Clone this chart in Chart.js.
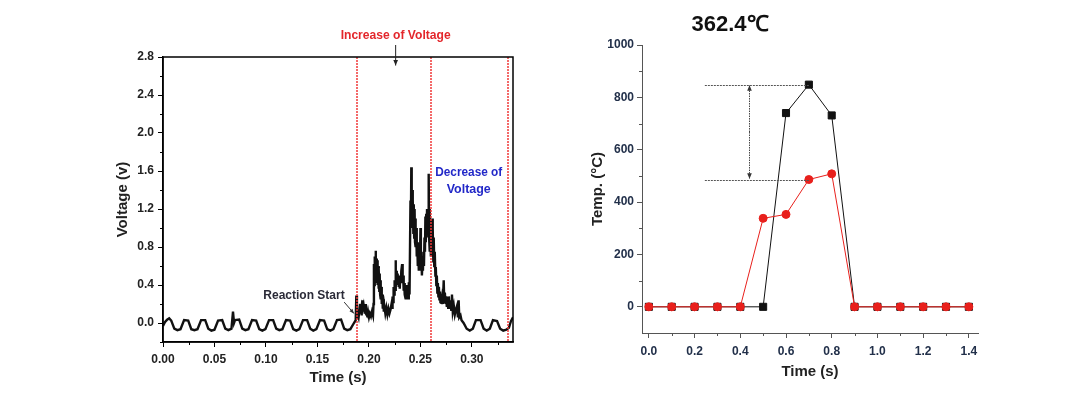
<!DOCTYPE html>
<html>
<head>
<meta charset="utf-8">
<script src="https://cdn.jsdelivr.net/npm/chart.js@4.4.1/dist/chart.umd.min.js"></script>
<style>
  body { margin: 0; background: #fff; width: 1070px; height: 400px; position: relative; overflow: hidden; }
  canvas { position: absolute; }
  #voltChart { left: 100px; top: 20px; }
  #tempChart { left: 560px; top: 0px; }
</style>
</head>
<body>
<canvas id="voltChart" width="430" height="375"></canvas>
<canvas id="tempChart" width="440" height="395"></canvas>
<script>
  // ---- left panel: voltage trace ----
  let voltTime = [
    0.000, 0.002, 0.004, 0.006, 0.008, 0.011, 0.014, 0.017, 0.0205, 0.0245,
    0.0275, 0.0305, 0.0335, 0.037, 0.041, 0.044, 0.047, 0.050, 0.0535, 0.0575,
    0.0605, 0.0635, 0.0665, 0.068, 0.069, 0.070, 0.074, 0.077, 0.080, 0.083,
    0.0865, 0.0905, 0.0935, 0.0965, 0.0995, 0.103, 0.107, 0.110, 0.113, 0.116,
    0.1195, 0.1235, 0.1265, 0.1295, 0.1325, 0.136, 0.140, 0.143, 0.146, 0.149,
    0.1525, 0.1565, 0.1595, 0.1625, 0.1655, 0.169, 0.173, 0.176, 0.179, 0.182,
    0.1855, 0.1872, 0.1878, 0.1884, 0.189, 0.190, 0.191, 0.1915, 0.192, 0.1925,
    0.193, 0.1936, 0.194, 0.195, 0.196, 0.1965, 0.197, 0.198, 0.199, 0.2001,
    0.201, 0.202, 0.203, 0.204, 0.2045, 0.2049, 0.2053, 0.2057, 0.2061, 0.2065,
    0.2069, 0.2073, 0.2077, 0.2081, 0.2085, 0.2089, 0.2093, 0.2097, 0.2101, 0.2105,
    0.2109, 0.2113, 0.2117, 0.2121, 0.2125, 0.213, 0.2135, 0.214, 0.2145, 0.215,
    0.216, 0.217, 0.218, 0.219, 0.220, 0.221, 0.222, 0.2225, 0.223, 0.2235,
    0.224, 0.2245, 0.225, 0.2255, 0.2259, 0.2263, 0.2267, 0.2271, 0.2275, 0.228,
    0.2285, 0.229, 0.2295, 0.230, 0.2305, 0.231, 0.2315, 0.2323, 0.2328, 0.2333,
    0.2338, 0.2343, 0.2348, 0.2356, 0.236, 0.2365, 0.237, 0.2375, 0.238, 0.2388,
    0.2395, 0.2404, 0.2408, 0.2412, 0.2416, 0.242, 0.2424, 0.2428, 0.2432, 0.2436,
    0.244, 0.2444, 0.2448, 0.2452, 0.2456, 0.246, 0.2465, 0.247, 0.2475, 0.248,
    0.2485, 0.249, 0.2495, 0.2501, 0.2505, 0.251, 0.2515, 0.252, 0.2525, 0.253,
    0.2535, 0.254, 0.2545, 0.2549, 0.2553, 0.2557, 0.2561, 0.2565, 0.257, 0.2575,
    0.2581, 0.2585, 0.2589, 0.2593, 0.2598, 0.2602, 0.2606, 0.261, 0.2614, 0.2618,
    0.2622, 0.2626, 0.263, 0.2635, 0.264, 0.2646, 0.265, 0.2655, 0.266, 0.2665,
    0.267, 0.2675, 0.268, 0.2685, 0.269, 0.2695, 0.270, 0.2705, 0.2711, 0.2718,
    0.2727, 0.2732, 0.2738, 0.2745, 0.275, 0.2757, 0.2763, 0.277, 0.2777, 0.2785,
    0.279, 0.280, 0.2807, 0.2815, 0.2825, 0.2835, 0.2845, 0.2856, 0.2865, 0.2872,
    0.2878, 0.289, 0.290, 0.292, 0.295, 0.298, 0.301, 0.304, 0.3085, 0.3115,
    0.3145, 0.3175, 0.3205, 0.3245, 0.3275, 0.3305, 0.3335, 0.336, 0.338, 0.340
  ];
  let voltValue = [
    -0.03, 0.01, 0.035, 0.05, 0.025, -0.06, -0.075, -0.065, 0.03, 0.025,
    -0.065, -0.075, -0.065, 0.03, 0.03, -0.06, -0.08, -0.07, 0.025, 0.03,
    -0.06, -0.075, -0.06, 0.12, 0.0, 0.03, 0.035, -0.06, -0.075, -0.065,
    0.03, 0.025, -0.065, -0.08, -0.065, 0.03, 0.03, -0.06, -0.075, -0.065,
    0.03, 0.025, -0.065, -0.08, -0.065, 0.03, 0.03, -0.06, -0.08, -0.065,
    0.03, 0.025, -0.065, -0.08, -0.065, 0.03, 0.035, -0.06, -0.075, -0.065,
    0.0, 0.03, 0.29, 0.04, 0.1, 0.06, 0.16, 0.2, 0.1, 0.14,
    0.08, 0.24, 0.12, 0.18, 0.1, 0.2, 0.1, 0.08, 0.13, 0.06,
    0.1, 0.07, 0.12, 0.08, 0.2, 0.62, 0.4, 0.7, 0.45, 0.76,
    0.5, 0.68, 0.42, 0.66, 0.4, 0.6, 0.36, 0.58, 0.34, 0.52,
    0.3, 0.45, 0.25, 0.38, 0.2, 0.3, 0.15, 0.25, 0.12, 0.18,
    0.1, 0.16, 0.09, 0.15, 0.1, 0.14, 0.2, 0.16, 0.28, 0.22,
    0.38, 0.3, 0.45, 0.35, 0.66, 0.38, 0.55, 0.4, 0.52, 0.4,
    0.5, 0.38, 0.48, 0.36, 0.5, 0.42, 0.55, 0.62, 0.42, 0.5,
    0.34, 0.42, 0.3, 0.26, 0.35, 0.28, 0.4, 0.3, 0.26, 0.43,
    0.3, 1.29, 1.0, 1.64, 1.05, 1.4, 1.0, 1.3, 0.95, 1.25,
    0.9, 1.2, 0.85, 1.1, 0.8, 1.0, 0.7, 0.85, 0.6, 0.75,
    0.55, 0.7, 0.55, 1.0, 0.6, 0.7, 0.5, 0.62, 0.55, 0.75,
    0.6, 0.9, 0.75, 1.12, 0.85, 1.15, 0.9, 1.2, 0.95, 1.15,
    1.57, 0.9, 1.2, 0.75, 1.1, 0.7, 1.05, 0.8, 1.1, 0.75,
    1.0, 0.65, 0.9, 0.6, 0.75, 0.5, 0.59, 0.4, 0.5, 0.32,
    0.42, 0.28, 0.38, 0.25, 0.33, 0.22, 0.3, 0.2, 0.26, 0.2,
    0.45, 0.22, 0.32, 0.2, 0.28, 0.17, 0.26, 0.16, 0.28, 0.15,
    0.24, 0.14, 0.3, 0.12, 0.18, 0.09, 0.14, 0.18, 0.06, 0.24,
    0.06, 0.08, 0.03, 0.0, -0.06, -0.08, -0.06, 0.03, 0.03, -0.06,
    -0.08, -0.06, 0.03, 0.02, -0.06, -0.08, -0.07, -0.05, 0.02, 0.06
  ];
  let voltXTicks = [0, 0.05, 0.10, 0.15, 0.20, 0.25, 0.30];
  let voltXMinor = [0.025, 0.075, 0.125, 0.175, 0.225, 0.275, 0.325];
  let voltYTicks = [0.0, 0.4, 0.8, 1.2, 1.6, 2.0, 2.4, 2.8];
  let voltYMinor = [-0.2, 0.2, 0.6, 1.0, 1.4, 1.8, 2.2, 2.6];
  let eventTimes = [0.1885, 0.2605, 0.3355]; // red dotted markers

  // ---- right panel: temperatures ----
  let tempTime = [0.0, 0.1, 0.2, 0.3, 0.4, 0.5, 0.6, 0.7, 0.8, 0.9, 1.0, 1.1, 1.2, 1.3, 1.4];
  let blackTemp = [0, 0, 0, 0, 0, 0, 740, 848.6, 731, 0, 0, 0, 0, 0, 0];
  let redTemp = [0, 0, 0, 0, 0, 338, 353, 486.2, 508, 0, 0, 0, 0, 0, 0];
  let tempXTicks = [0.0, 0.2, 0.4, 0.6, 0.8, 1.0, 1.2, 1.4];
  let tempXMinor = [0.1, 0.3, 0.5, 0.7, 0.9, 1.1, 1.3];
  let tempYTicks = [0, 200, 400, 600, 800, 1000];
  let tempYMinor = [100, 300, 500, 700, 900];

  const tickFont = { family: "'Liberation Sans', Arial, sans-serif", weight: 'bold', size: 12 };
  const titleFont = { family: "'Liberation Sans', Arial, sans-serif", weight: 'bold', size: 15 };

  function drawArrow(ctx, x1, y1, x2, y2, head) {
    let ang = Math.atan2(y2 - y1, x2 - x1);
    ctx.beginPath();
    ctx.moveTo(x1, y1);
    ctx.lineTo(x2, y2);
    ctx.stroke();
    ctx.beginPath();
    ctx.moveTo(x2, y2);
    ctx.lineTo(x2 - head * Math.cos(ang - 0.4), y2 - head * Math.sin(ang - 0.4));
    ctx.lineTo(x2 - head * Math.cos(ang + 0.4), y2 - head * Math.sin(ang + 0.4));
    ctx.closePath();
    ctx.fill();
  }

  function drawMinorTicks(chart, xVals, yVals, len, color) {
    const { ctx, chartArea: a, scales: { x, y } } = chart;
    ctx.strokeStyle = color;
    ctx.lineWidth = 1;
    xVals.forEach(v => {
      let px = Math.round(x.getPixelForValue(v)) + 0.5;
      ctx.beginPath(); ctx.moveTo(px, a.bottom); ctx.lineTo(px, a.bottom + len); ctx.stroke();
    });
    yVals.forEach(v => {
      let py = Math.round(y.getPixelForValue(v)) + 0.5;
      ctx.beginPath(); ctx.moveTo(a.left - len, py); ctx.lineTo(a.left, py); ctx.stroke();
    });
  }

  const voltDecor = {
    id: 'voltDecor',
    afterDraw(chart) {
      const { ctx, chartArea: a, scales: { x, y } } = chart;
      ctx.save();
      // red dotted markers, a little wide so they stay visibly red
      ctx.strokeStyle = 'rgba(240,55,55,0.75)';
      ctx.lineWidth = 2;
      ctx.setLineDash([2, 1]);
      eventTimes.forEach(t => {
        let px = Math.round(x.getPixelForValue(t));
        ctx.beginPath(); ctx.moveTo(px, a.top); ctx.lineTo(px, a.bottom); ctx.stroke();
      });
      ctx.setLineDash([]);
      // box frame
      ctx.strokeStyle = '#000';
      ctx.lineWidth = 1.5;
      ctx.strokeRect(a.left, a.top, a.right - a.left, a.bottom - a.top);
      drawMinorTicks(chart, voltXMinor, voltYMinor, 3, '#000');

      ctx.textAlign = 'center';
      ctx.textBaseline = 'middle';
      // Increase of Voltage
      ctx.fillStyle = '#e3262b';
      ctx.font = "bold 13px 'Liberation Sans', Arial, sans-serif";
      ctx.fillText('Increase of Voltage', x.getPixelForValue(0.226), a.top - 22, 110);
      ctx.strokeStyle = '#222';
      ctx.fillStyle = '#222';
      ctx.lineWidth = 1;
      drawArrow(ctx, x.getPixelForValue(0.226), a.top - 12, x.getPixelForValue(0.226), y.getPixelForValue(2.71), 6);
      // Decrease of Voltage
      ctx.fillStyle = '#2228c8';
      ctx.fillText('Decrease of', x.getPixelForValue(0.297), y.getPixelForValue(1.58), 67);
      ctx.fillText('Voltage', x.getPixelForValue(0.297), y.getPixelForValue(1.41), 44);
      // Reaction Start
      ctx.fillStyle = '#2b2b38';
      ctx.font = "bold 12px 'Liberation Sans', Arial, sans-serif";
      ctx.fillText('Reaction Start', x.getPixelForValue(0.137), y.getPixelForValue(0.29), 82);
      ctx.strokeStyle = '#333';
      ctx.fillStyle = '#333';
      drawArrow(ctx, x.getPixelForValue(0.176), y.getPixelForValue(0.22), x.getPixelForValue(0.1855), y.getPixelForValue(0.1), 5);
      ctx.restore();
    }
  };

  new Chart(document.getElementById('voltChart'), {
    type: 'line',
    data: {
      datasets: [{
        data: voltTime.map((t, i) => ({ x: t, y: voltValue[i] })),
        borderColor: '#111',
        borderWidth: 2.4,
        pointRadius: 0,
        tension: 0,
      }],
    },
    options: {
      responsive: false,
      animation: false,
      layout: { padding: { left: 0, right: 17, top: 37, bottom: 0 } },
      plugins: { legend: { display: false }, tooltip: { enabled: false } },
      scales: {
        x: {
          type: 'linear', min: 0, max: 0.34,
          afterBuildTicks: s => { s.ticks = voltXTicks.map(v => ({ value: v })); },
          afterFit: s => { s.height = 53; },
          grid: { drawOnChartArea: false, tickLength: 5, tickColor: '#000' },
          border: { color: '#000', width: 1.5 },
          ticks: { padding: 5, color: '#222', font: tickFont, autoSkip: false, maxRotation: 0, callback: v => v.toFixed(2) },
          title: { display: true, text: 'Time (s)', color: '#222', font: titleFont, padding: { top: 0, bottom: 8 } },
        },
        y: {
          min: -0.2, max: 2.8,
          afterBuildTicks: s => { s.ticks = voltYTicks.map(v => ({ value: v })); },
          afterFit: s => { s.width = 63; },
          grid: { drawOnChartArea: false, tickLength: 5, tickColor: '#000' },
          border: { color: '#000', width: 1.5 },
          ticks: { padding: 4, color: '#222', font: tickFont, autoSkip: false, callback: v => v.toFixed(1) },
          title: { display: true, text: 'Voltage (v)', color: '#222', font: titleFont, padding: { top: 14, bottom: 0 } },
        },
      },
    },
    plugins: [voltDecor],
  });

  const tempDecor = {
    id: 'tempDecor',
    afterDraw(chart) {
      const { ctx, chartArea: a, scales: { x, y } } = chart;
      ctx.save();
      drawMinorTicks(chart, tempXMinor, tempYMinor, 3, '#555');
      // title
      ctx.fillStyle = '#111';
      ctx.font = "bold 22px 'Liberation Sans', Arial, sans-serif";
      ctx.textAlign = 'center';
      ctx.textBaseline = 'middle';
      ctx.fillText('362.4℃', x.getPixelForValue(0.355), a.top - 20);
      // dashed gap guides
      ctx.strokeStyle = '#555';
      ctx.lineWidth = 1;
      ctx.setLineDash([2, 1]);
      [848.6, 486.2].forEach(v => {
        let py = Math.round(y.getPixelForValue(v)) + 0.5;
        ctx.beginPath(); ctx.moveTo(x.getPixelForValue(0.245), py); ctx.lineTo(x.getPixelForValue(0.7), py); ctx.stroke();
      });
      // dotted double arrow
      let ax = Math.round(x.getPixelForValue(0.44)) + 0.5;
      let yTop = y.getPixelForValue(846), yBot = y.getPixelForValue(489);
      let yMid = (yTop + yBot) / 2;
      ctx.strokeStyle = '#444';
      ctx.fillStyle = '#333';
      ctx.setLineDash([1.5, 1]);
      drawArrow(ctx, ax, yMid, ax, yTop, 6);
      drawArrow(ctx, ax, yMid, ax, yBot, 6);
      ctx.restore();
    }
  };

  new Chart(document.getElementById('tempChart'), {
    type: 'line',
    data: {
      datasets: [
        {
          data: tempTime.map((t, i) => ({ x: t, y: redTemp[i] })),
          borderColor: '#e8201c', backgroundColor: '#e8201c',
          borderWidth: 1, pointStyle: 'circle', pointRadius: 4, tension: 0,
        },
        {
          data: tempTime.map((t, i) => ({ x: t, y: blackTemp[i] })),
          borderColor: '#111', backgroundColor: '#111',
          borderWidth: 1, pointStyle: 'rect', pointRadius: 5, tension: 0,
        },
      ],
    },
    options: {
      responsive: false,
      animation: false,
      layout: { padding: { left: 0, right: 22, top: 45, bottom: 0 } },
      plugins: { legend: { display: false }, tooltip: { enabled: false } },
      scales: {
        x: {
          type: 'linear', min: -0.03, max: 1.44,
          afterBuildTicks: s => { s.ticks = tempXTicks.map(v => ({ value: v })); },
          afterFit: s => { s.height = 62; },
          grid: { drawOnChartArea: false, tickLength: 5, tickColor: '#555' },
          border: { color: '#555', width: 1 },
          ticks: { padding: 6, color: '#22304a', font: tickFont, autoSkip: false, maxRotation: 0, callback: v => v.toFixed(1) },
          title: { display: true, text: 'Time (s)', color: '#222', font: titleFont, padding: { top: 0, bottom: 14 } },
        },
        y: {
          min: -100, max: 1000,
          afterBuildTicks: s => { s.ticks = tempYTicks.map(v => ({ value: v })); },
          afterFit: s => { s.width = 82; },
          grid: { drawOnChartArea: false, tickLength: 5, tickColor: '#555' },
          border: { color: '#555', width: 1 },
          ticks: { padding: 3, color: '#22304a', font: tickFont, autoSkip: false, callback: v => String(v) },
          title: { display: true, text: 'Temp. (°C)', color: '#222', font: titleFont, padding: { top: 29, bottom: 0 } },
        },
      },
    },
    plugins: [tempDecor],
  });
</script>
</body>
</html>
